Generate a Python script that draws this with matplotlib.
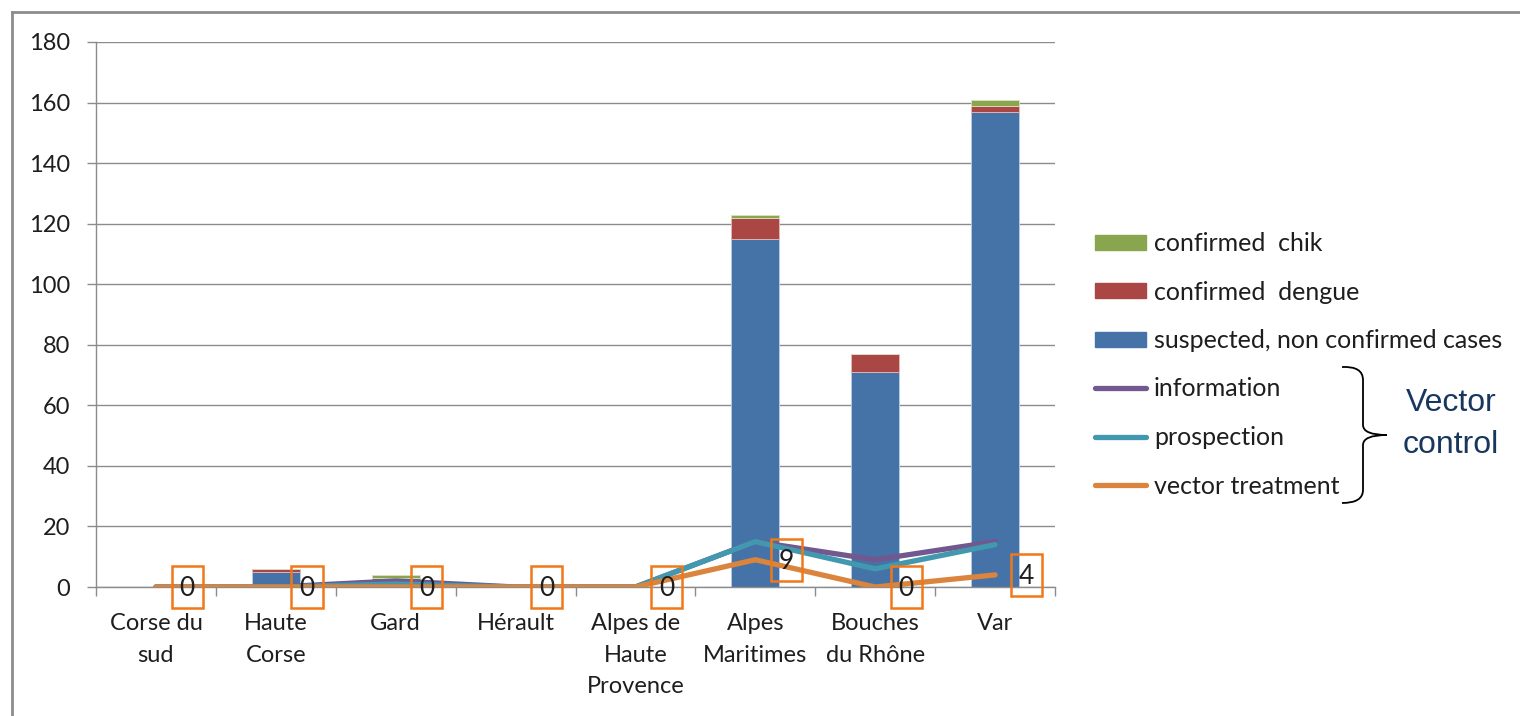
import matplotlib
matplotlib.use("Agg")
from matplotlib import pyplot as plt
from matplotlib import font_manager
from matplotlib.patches import Patch, Rectangle, PathPatch
from matplotlib.lines import Line2D
from matplotlib.path import Path
import numpy as np

# cases and vector control actions per department
departments = ["Corse du\nsud", "Haute\nCorse", "Gard", "Hérault", "Alpes de\nHaute\nProvence",
               "Alpes\nMaritimes", "Bouches\ndu Rhône", "Var"]
suspected = [0, 5, 3, 0, 0, 115, 71, 157]
dengue = [0, 1, 0, 0, 0, 7, 6, 2]
chik = [0, 0, 1, 0, 0, 1, 0, 2]
information = [0, 0, 2, 0, 0, 15, 9, 15]
prospection = [0, 0, 1, 0, 0, 15, 6, 14]
treatment = [0, 0, 0, 0, 0, 9, 0, 4]

names = {f.name for f in font_manager.fontManager.ttflist}
plt.rcParams['font.family'] = ['Lato', 'DejaVu Sans']
narrow = 'Liberation Sans Narrow' if 'Liberation Sans Narrow' in names else 'Liberation Sans'

W, H = 1520, 716
fig = plt.figure(figsize=(15.2, 7.16), dpi=100)
ax = fig.add_axes([96 / W, 1 - 587 / H, (1055 - 96) / W, (587 - 42) / H])

blue, red, green = '#4572A7', '#AA4643', '#89A54E'
purple, teal, orange = '#71588F', '#4198AF', '#DB843D'
grey = '#8C8C8C'
ink = '#1E1E1E'

x = np.arange(len(departments))
s = np.array(suspected)
d = np.array(dengue)
c = np.array(chik)
ax.bar(x, s, 0.4, color=blue, edgecolor='#B9CDE5', linewidth=0.6, zorder=2)
ax.bar(x, d, 0.4, bottom=s, color=red, edgecolor='#E6B9B8', linewidth=0.6, zorder=2)
ax.bar(x, c, 0.4, bottom=s + d, color=green, edgecolor='#D7E4BD', linewidth=0.6, zorder=2)

lw = 3.8
ax.plot(x, information, color=purple, lw=lw, solid_capstyle='round', zorder=3)
ax.plot(x, prospection, color=teal, lw=lw, solid_capstyle='round', zorder=4)
ax.plot(x, treatment, color=orange, lw=lw, solid_capstyle='round', zorder=5)

# data labels of the treatment series, each framed in an orange box
for i, v in enumerate(treatment):
    ax.text(i + 0.26, v - 0.6, str(v), ha='center', va='center', fontsize=19, color=ink, zorder=7)
    ax.add_patch(Rectangle((i + 0.13, v - 7), 0.26, 14, fill=False, edgecolor='#F07818',
                           lw=1.8, zorder=6, clip_on=False))

ax.set_xlim(-0.5, 7.5)
ax.set_ylim(0, 180)
ax.set_yticks(range(0, 181, 20))
ax.set_xticks(x)
ax.set_xticklabels(departments, linespacing=1.62)
ax.set_xticks(np.arange(-0.5, 8, 1), minor=True)
ax.tick_params(axis='x', which='major', length=0, pad=19, labelsize=17, labelcolor=ink)
ax.tick_params(axis='x', which='minor', length=6.5, color=grey, width=1)
ax.tick_params(axis='y', length=6.5, color=grey, width=1, pad=12, labelsize=17, labelcolor=ink)
ax.grid(axis='y', color=grey, lw=1)
ax.set_axisbelow(True)
for side in ('top', 'right'):
    ax.spines[side].set_visible(False)
for side in ('left', 'bottom'):
    ax.spines[side].set_color(grey)
    ax.spines[side].set_linewidth(1)

handles = [Patch(color=green), Patch(color=red), Patch(color=blue),
           Line2D([], [], color=purple, lw=lw, solid_capstyle='round'),
           Line2D([], [], color=teal, lw=lw, solid_capstyle='round'),
           Line2D([], [], color=orange, lw=lw, solid_capstyle='round')]
labels = ["confirmed  chik", "confirmed  dengue", "suspected, non confirmed cases",
          "information", "prospection", "vector treatment"]
fig.legend(handles, labels, loc='upper left', bbox_to_anchor=(1095 / W, 1 - 232 / H),
           frameon=False, fontsize=18, handlelength=2.05, handleheight=0.55,
           handletextpad=0.3, labelspacing=1.02, borderpad=0, borderaxespad=0,
           labelcolor=ink)

# brace grouping the vector control lines
def P(px, py):
    return (px / W, 1 - py / H)

verts = [P(1342, 367), P(1363, 366), P(1363, 380), P(1363, 425), P(1363, 435), P(1387, 435),
         P(1363, 435), P(1363, 445), P(1363, 490), P(1363, 503), P(1342, 503)]
codes = [Path.MOVETO, Path.CURVE3, Path.CURVE3, Path.LINETO, Path.CURVE3, Path.CURVE3,
         Path.CURVE3, Path.CURVE3, Path.LINETO, Path.CURVE3, Path.CURVE3]
fig.add_artist(PathPatch(Path(verts, codes), fill=False, lw=1.3, edgecolor='black',
                         transform=fig.transFigure))
fig.text(1451 / W, 1 - 424 / H, "Vector\ncontrol", ha='center', va='center', fontsize=23,
         color='#17375E', family=narrow, linespacing=1.55)

# outer frame
fig.add_artist(Line2D([12 / W, 1], [1 - 12 / H, 1 - 12 / H], color=grey, lw=2, transform=fig.transFigure))
fig.add_artist(Line2D([12 / W, 12 / W], [0, 1 - 12 / H], color=grey, lw=2, transform=fig.transFigure))

fig.savefig('out.png', dpi=100)
